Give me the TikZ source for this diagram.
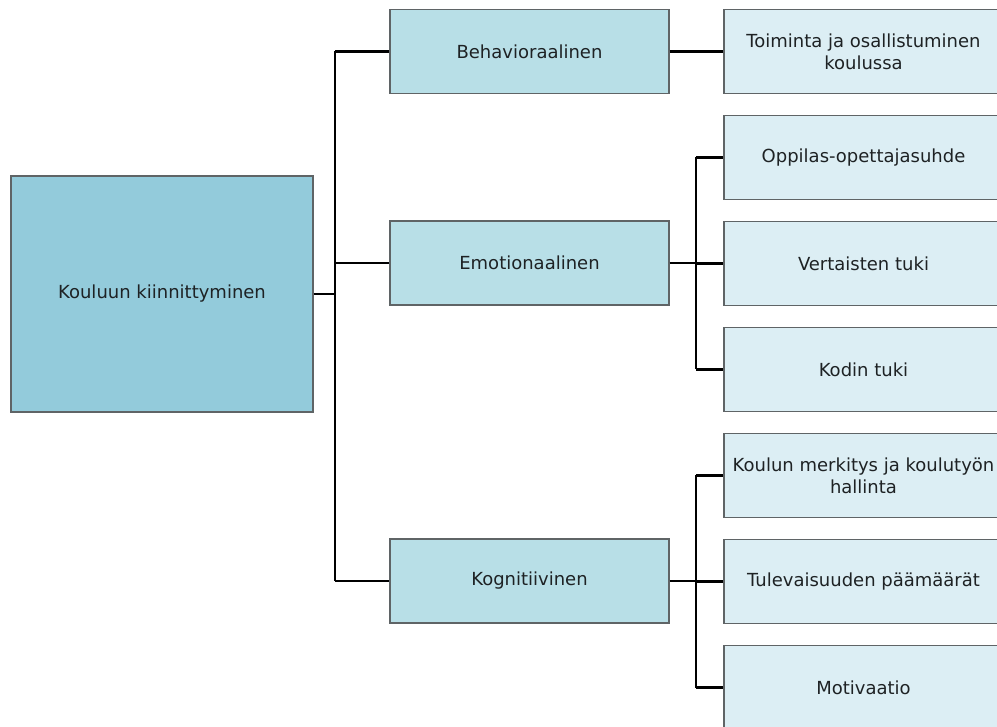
\documentclass[tikz,border=0pt]{standalone}
\usepackage{fontspec}
\setmainfont{DejaVu Sans}
\definecolor{rootfill}{HTML}{93CBDB}
\definecolor{midfill}{HTML}{B8DFE7}
\definecolor{leaffill}{HTML}{DCEEF4}
\definecolor{boxline}{HTML}{5F6466}
\definecolor{textcol}{HTML}{1E2224}
\tikzset{
  box/.style={draw=boxline, line width=1.3pt, rectangle, minimum width=279pt,
    minimum height=84pt, inner sep=1pt, align=center, text=textcol,
    font=\fontsize{18}{22}\selectfont},
  rootbox/.style={box, fill=rootfill, minimum width=302pt, minimum height=236pt},
  midbox/.style={box, fill=midfill},
  leafbox/.style={box, fill=leaffill},
  link/.style={line width=2.8pt, black}
}
\begin{document}
\begin{tikzpicture}[x=1pt,y=-1pt]
\useasboundingbox (0,0) rectangle (997,727);
% root
\node[rootbox] (root) at (162,294) {Kouluun kiinnittyminen};
% second level
\node[midbox] (beh) at (529.5,51.5) {Behavioraalinen};
\node[midbox] (emo) at (529.5,263) {Emotionaalinen};
\node[midbox] (kog) at (529.5,581) {Kognitiivinen};
% third level
\node[leafbox] (toim) at (863.5,51.5) {Toiminta ja osallistuminen\\koulussa};
\node[leafbox] (oppi) at (863.5,157.5) {Oppilas-opettajasuhde};
\node[leafbox] (vert) at (863.5,263.5) {Vertaisten tuki};
\node[leafbox] (kodi) at (863.5,369.5) {Kodin tuki};
\node[leafbox] (merk) at (863.5,475.5) {Koulun merkitys ja koulutyön\\hallinta};
\node[leafbox] (tule) at (863.5,581.5) {Tulevaisuuden päämäärät};
\node[leafbox] (moti) at (863.5,687.5) {Motivaatio};
% connectors
\coordinate (jr) at (335,294);
\coordinate (je) at (696,263);
\coordinate (jk) at (696,581);
\draw[link] (root.east) -- (jr);
\draw[link] (jr |- beh.west) -- (jr |- kog.west);
\draw[link] (jr |- beh.west) -- (beh.west);
\draw[link] (jr |- emo.west) -- (emo.west);
\draw[link] (jr |- kog.west) -- (kog.west);
\draw[link] (beh.east) -- (toim.west);
\draw[link] (emo.east) -- (je);
\draw[link] (je |- oppi.west) -- (je |- kodi.west);
\draw[link] (je |- oppi.west) -- (oppi.west);
\draw[link] (je |- vert.west) -- (vert.west);
\draw[link] (je |- kodi.west) -- (kodi.west);
\draw[link] (kog.east) -- (jk);
\draw[link] (jk |- merk.west) -- (jk |- moti.west);
\draw[link] (jk |- merk.west) -- (merk.west);
\draw[link] (jk |- tule.west) -- (tule.west);
\draw[link] (jk |- moti.west) -- (moti.west);
\end{tikzpicture}
\end{document}
